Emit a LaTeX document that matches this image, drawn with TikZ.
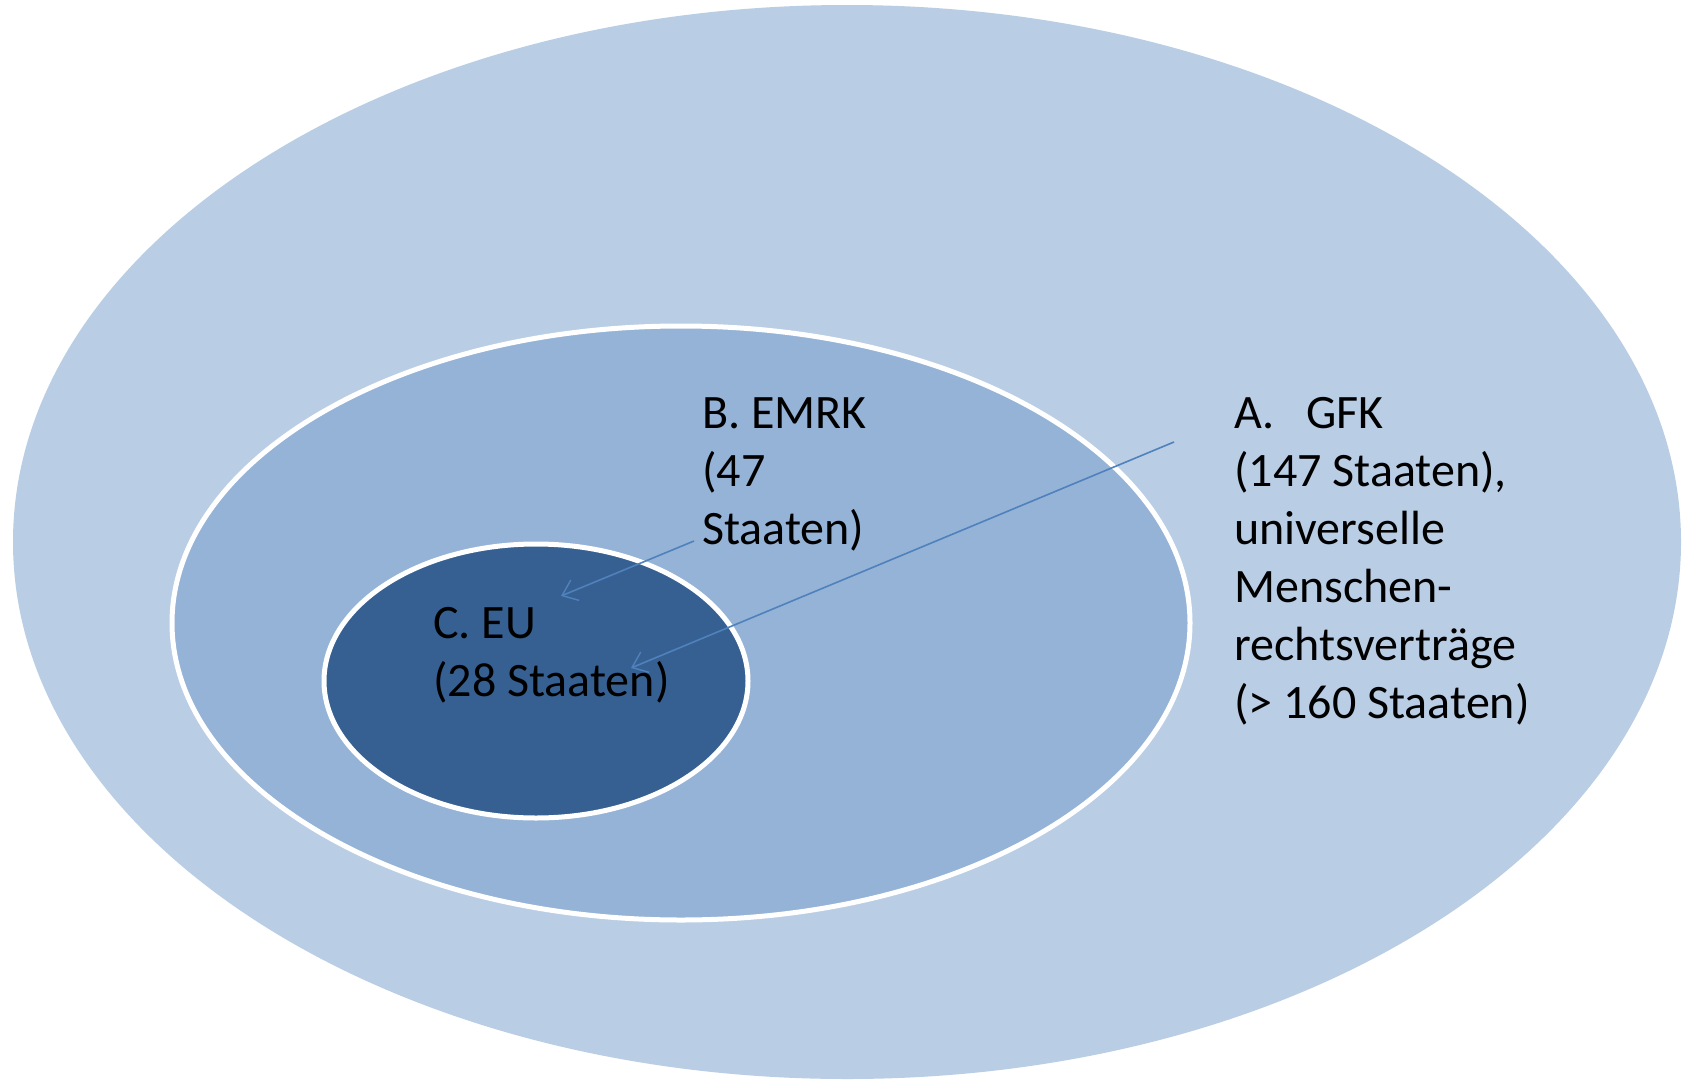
\documentclass[tikz,border=0pt]{standalone}
\usepackage{fontspec}
\setmainfont{Carlito}
\usetikzlibrary{arrows.meta}
\definecolor{outerC}{HTML}{B9CDE5}
\definecolor{midC}{HTML}{95B3D7}
\definecolor{innerC}{HTML}{366092}
\definecolor{arrC}{HTML}{4F81BD}
\tikzset{
  ring/.style={draw=white, line width=5pt},
  lbl/.style={anchor=base west, inner sep=0pt, align=left, font=\fontsize{48}{58}\selectfont, text=black},
  ptr/.style={draw=arrC, line width=1.6pt, -{Straight Barb[length=14pt,width=22pt,line width=1.4pt]}}
}
\begin{document}
\begin{tikzpicture}[x=1pt,y=-1pt]
\useasboundingbox (0,0) rectangle (1684,1079);
\fill[white] (0,0) rectangle (1684,1079);
\fill[outerC] (847,542) ellipse [x radius=834, y radius=537];
\filldraw[fill=midC, ring] (681,623) ellipse [x radius=509, y radius=297];
\filldraw[fill=innerC, ring] (536,681) ellipse [x radius=212, y radius=137];
% base anchor of a multi-line node sits on its last line
\node[lbl] (B) at (702,544) {B. EMRK\\(47\\Staaten)};
\node[lbl] (A) at (1234,718) {\makebox[72pt][l]{A.}GFK\\(147 Staaten),\\universelle\\Menschen-\\rechtsverträge\\(> 160 Staaten)};
\node[lbl] (C) at (433,696) {C. EU\\(28 Staaten)};
\coordinate (aS) at (1174,442);
\coordinate (aE) at (631,668);
\coordinate (bS) at (694,541);
\coordinate (bE) at (561,596);
\draw[ptr] (aS) -- (aE);
\draw[ptr] (bS) -- (bE);
\end{tikzpicture}
\end{document}
